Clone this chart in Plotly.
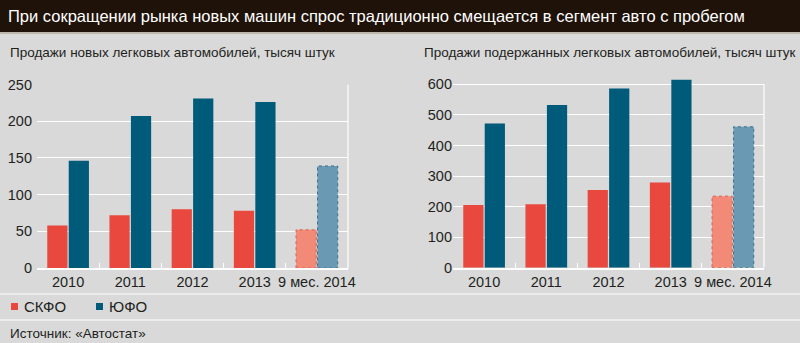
import plotly.graph_objects as go

categories = ["2010", "2011", "2012", "2013", "9 мес. 2014"]
new_skfo = [58, 72, 80, 78, 52]
new_ufo = [146, 207, 231, 226, 139]
used_skfo = [205, 208, 254, 279, 234]
used_ufo = [472, 532, 586, 615, 461]
new_max, used_max = 250, 600

title = "При сокращении рынка новых машин спрос традиционно смещается в сегмент авто с пробегом"
sub_left = "Продажи новых легковых автомобилей, тысяч штук"
sub_right = "Продажи подержанных легковых автомобилей, тысяч штук"
legend_names = ["СКФО", "ЮФО"]
source = "Источник: «Автостат»"

FONT = "Liberation Sans, Arial, sans-serif"
TXT = "#231f1c"
RED, BLUE = "#e8483e", "#005b7b"
RED_L, BLUE_L = "#f28a77", "#6a99b4"
W, OFF_A, OFF_B = 0.325, -0.335, 0.01

fig = go.Figure()

def add_pair(skfo, ufo, xa, ya):
    n = len(categories)
    fig.add_trace(go.Bar(x=categories, y=skfo, xaxis=xa, yaxis=ya, width=W, offset=OFF_A,
                         marker=dict(color=[RED] * (n - 1) + [RED_L], line=dict(width=0)),
                         showlegend=False, hoverinfo="y"))
    fig.add_trace(go.Bar(x=categories, y=ufo, xaxis=xa, yaxis=ya, width=W, offset=OFF_B,
                         marker=dict(color=[BLUE] * (n - 1) + [BLUE_L], line=dict(width=0)),
                         showlegend=False, hoverinfo="y"))
    # dashed outlines for the partial-year bars
    i = n - 1
    for off, val, col in [(OFF_A, skfo[i], "#d9604f"), (OFF_B, ufo[i], "#3f6f8c")]:
        fig.add_shape(type="rect", xref=xa, yref=ya, x0=i + off, x1=i + off + W, y0=0, y1=val,
                      line=dict(color=col, width=1, dash="dot"), fillcolor="rgba(0,0,0,0)")

add_pair(new_skfo, new_ufo, "x", "y")
add_pair(used_skfo, used_ufo, "x2", "y2")

ydom1 = [(343 - 268) / 343, (343 - 84.5) / 343]
ydom2 = [(343 - 267.7) / 343, (343 - 78.2) / 343]
axcommon = dict(showgrid=False, showline=True, linecolor="white", linewidth=1.5,
                ticks="inside", tickson="boundaries", tickcolor="white", ticklen=5,
                tickangle=0, automargin=False,
                tickfont=dict(family=FONT, size=14.5, color=TXT), fixedrange=True)
ycommon = dict(showgrid=True, gridcolor="white", gridwidth=1.2, zeroline=False,
               showline=False, ticks="", automargin=False,
               tickfont=dict(family=FONT, size=14.5, color=TXT),
               ticksuffix=" ", fixedrange=True)

fig.update_layout(
    width=800, height=343, margin=dict(l=0, r=0, t=0, b=0),
    paper_bgcolor="#d9d9d9", plot_bgcolor="#d9d9d9",
    bargap=0.3, barmode="overlay",
    xaxis=dict(domain=[37 / 800, 348 / 800], anchor="y", **axcommon),
    yaxis=dict(domain=ydom1, anchor="x", range=[0, new_max], dtick=50, **ycommon),
    xaxis2=dict(domain=[453 / 800, 764 / 800], anchor="y2", **axcommon),
    yaxis2=dict(domain=ydom2, anchor="x2", range=[0, 620], tickvals=list(range(0, used_max + 1, 100)),
                **ycommon),
    font=dict(family=FONT, color=TXT),
)

# right borders of plot areas
for xa, ya, top in [("x", "y", new_max), ("x2", "y2", used_max)]:
    fig.add_shape(type="line", xref=xa + " domain", yref=ya, x0=1, x1=1, y0=0, y1=top,
                  line=dict(color="white", width=1.2), layer="below")

# header band
fig.add_shape(type="rect", xref="paper", yref="paper", x0=0, x1=1, y0=1 - 32 / 343, y1=1,
              fillcolor="#1f1209", line=dict(width=0), layer="below")
fig.add_shape(type="line", xref="paper", yref="paper", x0=0, x1=1, y0=1 - 33 / 343, y1=1 - 33 / 343,
              line=dict(color="#b3aa9c", width=1.5))
# separators
for yy in [294, 320]:
    fig.add_shape(type="line", xref="paper", yref="paper", x0=0, x1=1,
                  y0=1 - yy / 343, y1=1 - yy / 343, line=dict(color="white", width=1.2))

def txt(x, y, s, size, color=TXT, anchor="left"):
    fig.add_annotation(text=s, xref="paper", yref="paper", x=x / 800, y=1 - y / 343,
                       xanchor=anchor, yanchor="middle", showarrow=False,
                       font=dict(family=FONT, size=size, color=color))

txt(6, 16, title, 16.5, color="white")
txt(8, 52, sub_left, 13.5)
txt(422, 52, sub_right, 13.5)
txt(8, 333, source, 13.5)

# legend
for (x, name, col) in [(11, legend_names[0], RED), (96, legend_names[1], BLUE)]:
    fig.add_shape(type="rect", xref="paper", yref="paper", x0=x / 800, x1=(x + 7) / 800,
                  y0=1 - 310 / 343, y1=1 - 303 / 343, fillcolor=col, line=dict(width=0))
    txt(x + 11, 306, name, 15)

fig.write_html("out.html")
